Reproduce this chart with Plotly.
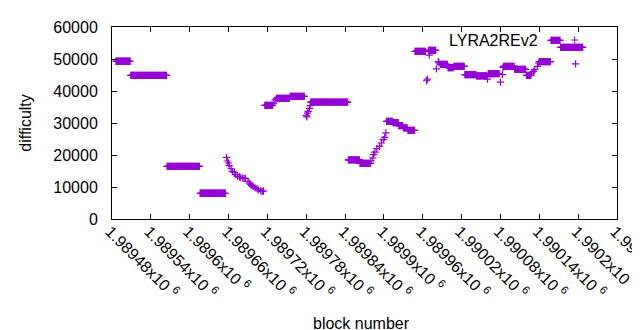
import plotly.graph_objects as go

# constant-difficulty stretches: first block, last block, difficulty
run_start = [1989486, 1989509, 1989565, 1989616, 1989716, 1989734, 1989755, 1989787,
             1989845, 1989863, 1989904, 1989914, 1989923, 1989930, 1989937, 1989948,
             1989969, 1989987, 1989999, 1990008, 1990025, 1990043, 1990061, 1990085,
             1990102, 1990120, 1990140, 1990158, 1990173]
run_end = [1989508, 1989564, 1989615, 1989655, 1989728, 1989754, 1989777, 1989844,
           1989862, 1989879, 1989913, 1989922, 1989929, 1989936, 1989947, 1989964,
           1989980, 1989998, 1990007, 1990024, 1990042, 1990059, 1990078, 1990101,
           1990119, 1990127, 1990157, 1990172, 1990207]
run_value = [49300, 44900, 16450, 8050, 35500, 37700, 38350, 36500,
             18450, 17400, 30500, 30100, 29150, 28450, 27700, 52400,
             52700, 48300, 47300, 47700, 45100, 44750, 45450, 47700,
             46750, 44900, 49150, 55850, 53650]

# single blocks (transitions and outliers)
pt_block = [1989657, 1989658, 1989660, 1989661, 1989664, 1989666, 1989669, 1989671,
            1989674, 1989677, 1989679, 1989682, 1989684, 1989686, 1989690, 1989692,
            1989694, 1989696, 1989698, 1989701, 1989704, 1989706, 1989710, 1989712,
            1989714,
            1989730, 1989732,
            1989780, 1989781, 1989782, 1989783, 1989785, 1989786,
            1989880, 1989883, 1989884, 1989886, 1989889, 1989893, 1989896, 1989899,
            1989901, 1989903,
            1989966, 1989967, 1989970, 1989981, 1989984, 1989985,
            1990060, 1990080, 1990083, 1990084,
            1990128, 1990131, 1990133, 1990137, 1990139,
            1990196]
pt_value = [19280, 18125, 17500, 16650, 15700, 14900, 14600, 13850,
            13350, 13125, 12950, 12800, 12700, 12650, 11800, 11250,
            10850, 10400, 10100, 9700, 9470, 9120, 8850, 8650,
            8750,
            36200, 37200,
            32400, 31900, 33100, 33650, 34600, 35400,
            18200, 19060, 20100, 20900, 21970, 22700, 23750, 24800,
            25500, 26900,
            43200, 43700, 51200, 46900, 49200, 48800,
            43700, 42800, 45100, 47400,
            45600, 46150, 46650, 47700, 48750,
            48450]

tick_vals = [1989480, 1989540, 1989600, 1989660, 1989720, 1989780, 1989840,
             1989900, 1989960, 1990020, 1990080, 1990140, 1990200, 1990260]
tick_text = ["1.98948x10 <sup>6</sup>", "1.98954x10 <sup>6</sup>", "1.9896x10 <sup>6</sup>",
             "1.98966x10 <sup>6</sup>", "1.98972x10 <sup>6</sup>", "1.98978x10 <sup>6</sup>",
             "1.98984x10 <sup>6</sup>", "1.9899x10 <sup>6</sup>", "1.98996x10 <sup>6</sup>",
             "1.99002x10 <sup>6</sup>", "1.99008x10 <sup>6</sup>", "1.99014x10 <sup>6</sup>",
             "1.9902x10 <sup>6</sup>", "1.99026x10 <sup>6</sup>"]
y_ticks = [0, 10000, 20000, 30000, 40000, 50000, 60000]
y_text = ["0", "10000", "20000", "30000", "40000", "50000", "60000"]

series_name = "LYRA2REv2"
color = "#9400D3"

blocks, diffs = [], []
for s, e, v in zip(run_start, run_end, run_value):
    for b in range(s, e + 1):
        blocks.append(b)
        diffs.append(v)
blocks += pt_block
diffs += pt_value

fig = go.Figure()
fig.add_trace(go.Scatter(
    x=blocks, y=diffs, mode="markers", name=series_name, showlegend=False,
    marker=dict(symbol="cross-thin", size=5.2, color=color,
                line=dict(color=color, width=1.2)),
    cliponaxis=False,
))

font = dict(family="Liberation Sans, Arial, sans-serif", size=16, color="black")

fig.update_layout(
    width=640, height=330,
    margin=dict(l=104, r=31, t=19, b=119, pad=0),
    paper_bgcolor="white", plot_bgcolor="white",
    font=font,
    xaxis=dict(range=[1989480, 1990260], tickvals=tick_vals, ticktext=tick_text,
               tickangle=45, ticks="inside", ticklen=5, tickcolor="black",
               ticklabeloverflow="allow", automargin=False,
               ticklabelstandoff=-4, ticklabelshift=-2,
               showline=True, linecolor="black", linewidth=1, mirror="ticks",
               showgrid=False, zeroline=False),
    yaxis=dict(range=[0, 60000], tickvals=y_ticks, ticktext=y_text,
               ticks="inside", ticklen=5, automargin=False,
               tickcolor="black", showline=True, linecolor="black", linewidth=1,
               mirror="ticks", showgrid=False, zeroline=False,
               ticklabelstandoff=10),
)

fig.add_annotation(text="difficulty", xref="paper", yref="paper",
                   x=(17 - 104.3) / 505, y=0.5, textangle=-90,
                   xanchor="center", yanchor="middle", showarrow=False, font=font)
fig.add_annotation(text="block number", xref="paper", yref="paper",
                   x=(354 - 104.3) / 505, y=(211 - 315) / 192,
                   xanchor="center", yanchor="middle", showarrow=False, font=font)
fig.add_annotation(text=series_name, xref="paper", yref="paper",
                   x=(532 - 104.3) / 505, y=(211 - 32) / 192,
                   xanchor="right", yanchor="middle", showarrow=False, font=font)
lx, ly = (567 - 104.3) / 505, (211 - 32) / 192
fig.add_shape(type="line", xref="paper", yref="paper", xsizemode="pixel",
              xanchor=lx, x0=-3.5, x1=3.5, y0=ly, y1=ly,
              line=dict(color=color, width=1))
fig.add_shape(type="line", xref="paper", yref="paper", ysizemode="pixel",
              yanchor=ly, y0=-3.5, y1=3.5, x0=lx, x1=lx,
              line=dict(color=color, width=1))

fig.write_html("out.html")
